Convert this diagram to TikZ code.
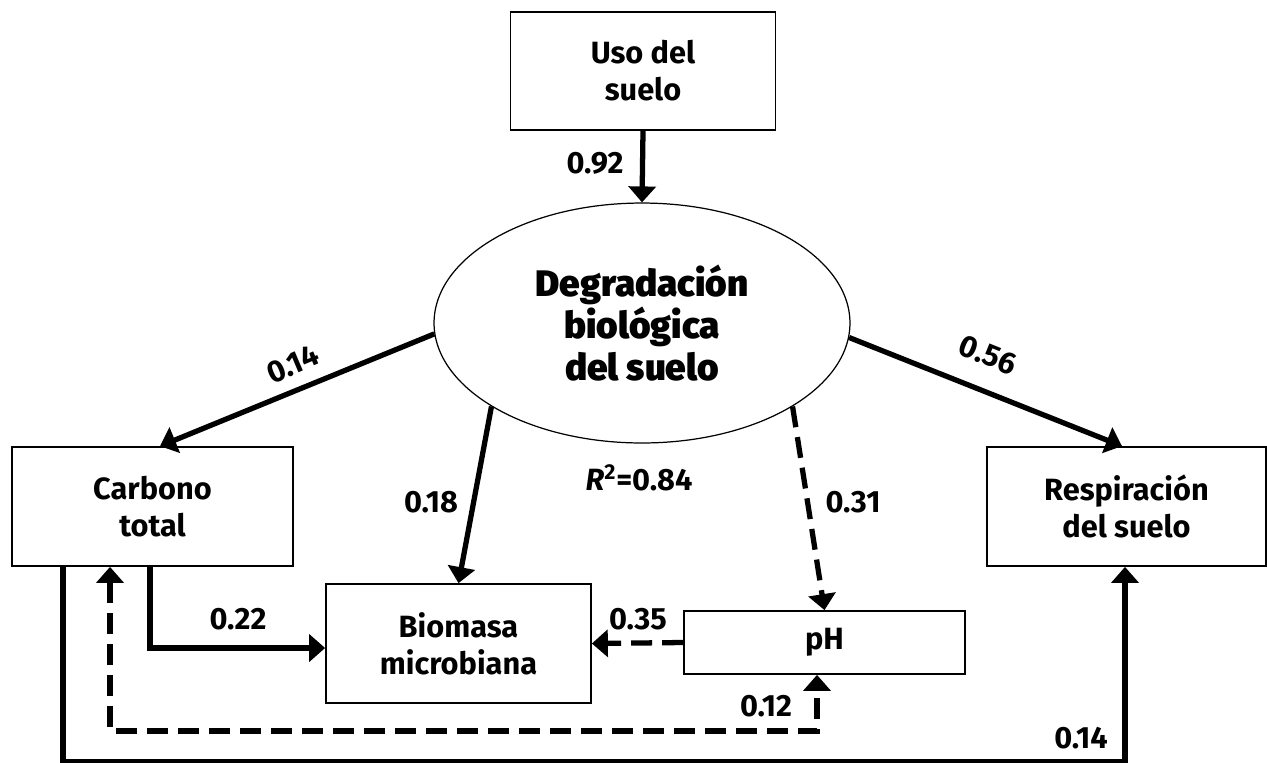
\documentclass[tikz,border=0pt]{standalone}
\usepackage{fontspec}
\setmainfont{Fira Sans}
\newfontfamily\heavyfont{Fira Sans Black}
\usetikzlibrary{arrows.meta, shapes.geometric}

\newcommand{\labfont}{\fontsize{17.5}{21}\selectfont\bfseries}
\newcommand{\degfont}{\heavyfont\fontsize{21}{24}\selectfont}

\tikzset{
  caja/.style={draw, line width=1pt, align=center, inner sep=0pt, font=\labfont},
  coef/.style={font=\labfont, inner sep=1pt},
  flecha/.style={line width=3pt, -{Triangle[length=0.32cm, width=0.54cm]}},
  discont/.style={dash pattern=on 0.42cm off 0.2cm},
}

\begin{document}
\begin{tikzpicture}[x=0.02cm, y=-0.02cm]
	\useasboundingbox (0,0) rectangle (1267,762);
	% Variables
	\node[caja, minimum width=5.3cm, minimum height=2.36cm] (uso) at (643,71) {Uso del\\suelo};
	\node[draw, ellipse, line width=0.7pt, minimum width=8.32cm, minimum height=4.8cm, inner sep=0pt, align=center, font=\degfont] (deg) at (642,323) {Degradación\\biológica\\del suelo};
	\node[caja, minimum width=5.62cm, minimum height=2.38cm] (carb) at (152.5,506.5) {Carbono\\total};
	\node[caja, minimum width=5.3cm, minimum height=2.38cm] (bio) at (458.5,643.5) {Biomasa\\microbiana};
	\node[caja, minimum width=5.62cm, minimum height=1.26cm] (ph) at (824.5,642.5) {pH};
	\node[caja, minimum width=5.58cm, minimum height=2.38cm] (resp) at (1126.5,506.5) {Respiración\\del suelo};
	% Relaciones
	\draw[flecha] (uso.south) -- (deg.north);
	\draw[flecha] (deg.183) -- ([xshift=0.15cm]carb.north);
	\draw[flecha] (deg.-4) -- ([xshift=-0.09cm]resp.north);
	\draw[flecha] (deg.209) -- (bio.north);
	\draw[flecha, discont] (deg.-29) -- (ph.north);
	\draw[flecha] ([xshift=-0.05cm]carb.south) |- ([yshift=-0.09cm]bio.west);
	\draw[flecha, discont] (ph.west) -- (bio.east);
	\draw[flecha, discont, {Triangle[length=0.32cm, width=0.54cm]}-{Triangle[length=0.32cm, width=0.54cm]}] ([xshift=-0.85cm]carb.south) -- ++(0,164) -| ([xshift=-0.15cm]ph.south);
	\draw[flecha] ([xshift=-1.79cm]carb.south) -- ++(0,195) -| ([xshift=-0.03cm]resp.south);
	% Coeficientes
	\node[coef] (c092) at (595,163) {0.92};
	\node[coef, rotate=23] (c014a) at (293,364) {0.14};
	\node[coef, rotate=-22] (c056) at (988,355) {0.56};
	\node[coef] (c018) at (431,502) {0.18};
	\node[coef] (cr2) at (639,478) {\textit{R}\textsuperscript{2}=0.84};
	\node[coef] (c031) at (853,502) {0.31};
	\node[coef] (c022) at (238,619) {0.22};
	\node[coef] (c035) at (638,619) {0.35};
	\node[coef] (c012) at (766,706) {0.12};
	\node[coef] (c014b) at (1081,738) {0.14};
\end{tikzpicture}
\end{document}
